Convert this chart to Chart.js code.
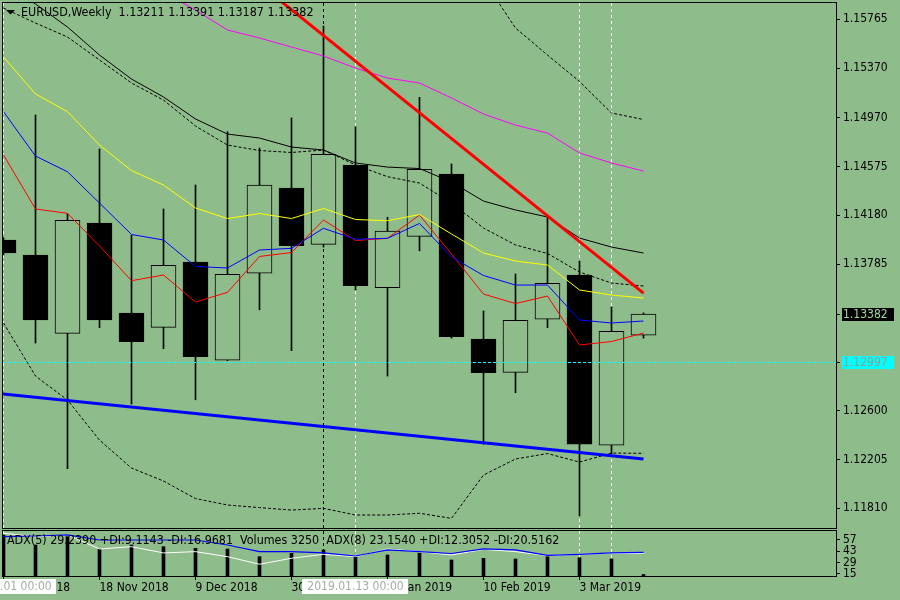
<!DOCTYPE html>
<html lang="en">
<head>
  <meta charset="UTF-8">
  <title>EURUSD Weekly</title>
  <script src="https://cdn.jsdelivr.net/npm/chart.js"></script>
  <style>
    body { margin: 0; background: #8fbc8b; width: 900px; height: 600px; overflow: hidden; position: relative; }
    canvas { position: absolute; left: 0; }
    #priceChart { top: 0; }
    #adxChart { top: 528px; }
  </style>
</head>
<body>
  <canvas id="priceChart" width="900" height="530"></canvas>
  <canvas id="adxChart" width="900" height="72"></canvas>
  <script>
    // weekly bars, index 0 = week of 28 Oct 2018
    const weeks = ['28 Oct 2018', '4 Nov 2018', '11 Nov 2018', '18 Nov 2018', '25 Nov 2018', '2 Dec 2018', '9 Dec 2018',
      '16 Dec 2018', '23 Dec 2018', '30 Dec 2018', '6 Jan 2019', '13 Jan 2019', '20 Jan 2019', '27 Jan 2019',
      '3 Feb 2019', '10 Feb 2019', '17 Feb 2019', '24 Feb 2019', '3 Mar 2019', '10 Mar 2019', '17 Mar 2019'];
    const openP  = [1.13980, 1.13859, 1.13225, 1.14118, 1.13390, 1.13274, 1.13802, 1.13009, 1.13711, 1.14401, 1.13945,
      1.14587, 1.13594, 1.14010, 1.14514, 1.13179, 1.12910, 1.13339, 1.13697, 1.12320, 1.13211];
    const highP  = [1.14000, 1.14991, 1.14190, 1.14716, 1.14018, 1.14231, 1.14425, 1.14856, 1.14724, 1.14967, 1.15711,
      1.14896, 1.14164, 1.15134, 1.14595, 1.13406, 1.13705, 1.14168, 1.13810, 1.13438, 1.13391];
    const lowP   = [1.13860, 1.13147, 1.12130, 1.13271, 1.12654, 1.13101, 1.12688, 1.13005, 1.13416, 1.13085, 1.13923,
      1.13576, 1.12880, 1.13893, 1.13187, 1.12328, 1.12745, 1.13271, 1.11748, 1.12247, 1.13187];
    const closeP = [1.13875, 1.13333, 1.14139, 1.13333, 1.13157, 1.13775, 1.13036, 1.13703, 1.14425, 1.13934, 1.14673,
      1.13610, 1.14053, 1.14552, 1.13198, 1.12907, 1.13331, 1.13630, 1.12328, 1.13242, 1.13382];

    // moving averages
    const maRed = [1.14668, 1.14231, 1.14196, 1.13932, 1.13651, 1.13697, 1.13479, 1.13557, 1.13847, 1.13879, 1.14142,
      1.13976, 1.13994, 1.14182, 1.13867, 1.13543, 1.13466, 1.13527, 1.13131, 1.13159, 1.13228];
    const maBlue = [1.15018, 1.14659, 1.14532, 1.14279, 1.14025, 1.13980, 1.13766, 1.13754, 1.13899, 1.13913, 1.14075,
      1.13986, 1.13994, 1.14114, 1.13843, 1.13693, 1.13616, 1.13616, 1.13333, 1.13309, 1.13325];
    const maYellow = [1.15460, 1.15161, 1.15018, 1.14748, 1.14542, 1.14425, 1.14239, 1.14154, 1.14194, 1.14154, 1.14235,
      1.14146, 1.14136, 1.14186, 1.14029, 1.13875, 1.13810, 1.13778, 1.13576, 1.13535, 1.13511];
    const maBlack = [1.16042, 1.15889, 1.15703, 1.15476, 1.15282, 1.15137, 1.14959, 1.14837, 1.14805, 1.14732, 1.14708,
      1.14603, 1.14570, 1.14558, 1.14449, 1.14295, 1.14223, 1.14166, 1.13996, 1.13923, 1.13875];
    const maMagenta = [null, null, null, null, null, 1.15986, 1.15840, 1.15679, 1.15614, 1.15541, 1.15468,
      1.15371, 1.15290, 1.15250, 1.15129, 1.14999, 1.14910, 1.14845, 1.14684, 1.14603, 1.14538];
    // bands (dotted)
    const bandMid = [1.15856, 1.15735, 1.15622, 1.15436, 1.15250, 1.15112, 1.14902, 1.14748, 1.14704, 1.14688, 1.14708,
      1.14587, 1.14492, 1.14441, 1.14279, 1.14077, 1.13940, 1.13871, 1.13721, 1.13632, 1.13608];
    const bandUpper = [null, null, null, null, null, null, null, null, null, null, null, null, null, null,
      1.16406, 1.16083, 1.15695, 1.15476, 1.15262, 1.15007, 1.14955];
    const bandLower = [1.13309, 1.12880, 1.12686, 1.12362, 1.12136, 1.12031, 1.11889, 1.11837, 1.11816, 1.11796, 1.11810,
      1.11756, 1.11756, 1.11770, 1.11729, 1.12079, 1.12209, 1.12253, 1.12184, 1.12257, 1.12255];

    // trend lines: [bar index, price]
    const redTrend = [[8, 1.16051], [20, 1.13551]];
    const blueTrend = [[-0.0156, 1.12734], [20, 1.12209]];
    const cyanLevel = 1.12997;
    const lastPrice = 1.13382;
    const whiteVLines = [0, 11, 18, 19];
    const blackVLines = [10];
    const vLineLabels = [[0, '2018.11.01 00:00'], [11, '2019.01.13 00:00']];

    const priceTicks = [1.15765, 1.15370, 1.14970, 1.14575, 1.14180, 1.13785, 1.12600, 1.12205, 1.11810];
    const dateTicks = [0, 3, 6, 9, 12, 15, 18];
    const adxTicks = [57, 43, 29, 15];

    // lower window
    const volumes = [90000, 68200, 86500, 59400, 68200, 64500, 60900, 59400, 42500, 49900, 57200,
      42500, 46200, 49900, 35200, 38900, 37400, 42500, 40300, 37400, 3250];
    const adxWhite = [65.3, 61.1, 63.2, 45.9, 48.7, 41.0, 42.6, 36.4, 27.0, 34.4, 39.3,
      36.4, 45.9, 42.6, 38.5, 45.5, 42.6, 37.6, 39.3, 40.5, 40.5];
    const adxBlue = [61.1, 61.9, 63.2, 57.0, 57.0, 57.0, 57.0, 50.8, 42.6, 42.6, 41.0,
      37.2, 44.7, 42.6, 40.3, 45.9, 44.7, 37.9, 39.3, 41.0, 41.8];

    const BG = '#8fbc8b';
    const FAMILY = '"DejaVu Sans Condensed", "DejaVu Sans", sans-serif';
    const FONT = '12.4px ' + FAMILY;
    const X_MIN = -0.015625, X_MAX = 26.015625;

    const pts = arr => arr.map((v, i) => ({ x: i, y: v })).filter(p => p.y !== null);
    const line = (data, color, extra) => Object.assign({
      type: 'line', data: data, borderColor: color, borderWidth: 1, pointRadius: 0, order: 5
    }, extra || {});

    function dashLine(ctx, x1, y1, x2, y2, color, dash) {
      ctx.save();
      ctx.strokeStyle = color;
      ctx.lineWidth = 1;
      ctx.setLineDash(dash);
      ctx.beginPath();
      ctx.moveTo(x1, y1);
      ctx.lineTo(x2, y2);
      ctx.stroke();
      ctx.restore();
    }

    function drawVLines(chart) {
      const { ctx, chartArea: a, scales: { x } } = chart;
      whiteVLines.forEach(i => { const px = x.getPixelForValue(i); dashLine(ctx, px, a.top, px, a.bottom, '#ffffff', [3, 3]); });
      blackVLines.forEach(i => { const px = x.getPixelForValue(i); dashLine(ctx, px, a.top, px, a.bottom, '#000000', [3, 3]); });
    }

    function drawFrame(chart) {
      const { ctx, chartArea: a } = chart;
      ctx.save();
      ctx.strokeStyle = '#000';
      ctx.lineWidth = 1;
      ctx.strokeRect(a.left - 0.5, a.top - 0.5, a.right - a.left + 1, a.bottom - a.top + 1);
      ctx.restore();
    }

    const priceDecor = {
      id: 'priceDecor',
      beforeDatasetsDraw(chart) { drawVLines(chart); },
      afterDatasetsDraw(chart) {
        const { ctx, chartArea: a, scales: { y } } = chart;
        const py = Math.round(y.getPixelForValue(cyanLevel)) + 0.5;
        dashLine(ctx, a.left, py, a.right, py, '#00ffff', [3, 2]);
      },
      afterDraw(chart) {
        const { ctx, chartArea: a, scales: { y } } = chart;
        drawFrame(chart);
        ctx.save();
        // header
        ctx.fillStyle = '#000';
        ctx.beginPath();
        ctx.moveTo(6, 10); ctx.lineTo(15, 10); ctx.lineTo(10.5, 14.5); ctx.closePath();
        ctx.fill();
        ctx.font = FONT;
        ctx.textBaseline = 'middle';
        ctx.textAlign = 'left';
        ctx.fillText('EURUSD,Weekly  ' + [openP[20], highP[20], lowP[20], closeP[20]].map(v => v.toFixed(5)).join(' '), 21, 13);
        // price labels on the axis
        ctx.font = '12px ' + FAMILY;
        const boxes = [[lastPrice, '#000000', '#a6d4a2'], [cyanLevel, '#00ffff', '#8f9f8f']];
        boxes.forEach(([v, fill, txt]) => {
          const py = Math.round(y.getPixelForValue(v));
          ctx.fillStyle = fill;
          ctx.fillRect(a.right + 6, py - 6, 52, 13);
          ctx.fillStyle = '#000';
          ctx.fillRect(a.right, py, 4, 1);
          ctx.fillStyle = txt;
          ctx.fillText(v.toFixed(5), a.right + 7, py + 1);
        });
        ctx.restore();
      }
    };

    const adxDecor = {
      id: 'adxDecor',
      beforeDatasetsDraw(chart) { drawVLines(chart); },
      afterDraw(chart) {
        const { ctx, chartArea: a, scales: { x } } = chart;
        ctx.save();
        // the window clips its scale labels at the bottom edge
        ctx.fillStyle = BG;
        ctx.fillRect(a.right + 6, a.bottom + 1, 60, 24);
        drawFrame(chart);
        ctx.font = FONT;
        ctx.textBaseline = 'middle';
        ctx.textAlign = 'left';
        ctx.fillStyle = '#000';
        ctx.fillText('ADX(5) 29.2390 +DI:9.1143 -DI:16.9681  Volumes 3250  ADX(8) 23.1540 +DI:12.3052 -DI:20.5162', 7, 13);
        ctx.font = '12px ' + FAMILY;
        vLineLabels.forEach(([i, text]) => {
          const px = x.getPixelForValue(i);
          const w = ctx.measureText(text).width + 10;
          ctx.fillStyle = '#ffffff';
          ctx.fillRect(Math.round(px - w / 2), a.bottom + 3, Math.round(w), 15);
          ctx.fillStyle = '#a3ada3';
          ctx.textAlign = 'center';
          ctx.fillText(text, px, a.bottom + 11);
        });
        ctx.restore();
      }
    };

    const fixWidth = w => function (scale) { scale.width = w; scale.paddingTop = 0; scale.paddingBottom = 0; };

    new Chart(document.getElementById('priceChart'), {
      type: 'bar',
      data: {
        datasets: [
          { label: 'wick', data: weeks.map((w, i) => ({ x: i, y: [lowP[i], highP[i]] })),
            backgroundColor: '#000', barThickness: 1, grouped: false, order: 10 },
          { label: 'body', data: weeks.map((w, i) => ({ x: i, y: [openP[i], closeP[i]] })),
            backgroundColor: weeks.map((w, i) => closeP[i] >= openP[i] ? BG : '#000'),
            borderColor: '#000', borderWidth: 1, borderSkipped: false, barThickness: 25, grouped: false, order: 9 },
          line(pts(bandLower), '#000', { borderDash: [3, 2] }),
          line(pts(bandUpper), '#000', { borderDash: [3, 2] }),
          line(pts(bandMid), '#000', { borderDash: [3, 2] }),
          line(pts(maBlack), '#000'),
          line(pts(maMagenta), '#ff00ff'),
          line(pts(maYellow), '#ffff00'),
          line(pts(maBlue), '#0000ff'),
          line(pts(maRed), '#ff0000'),
          line(blueTrend.map(([x, y]) => ({ x, y })), '#0000ff', { borderWidth: 3, order: 1 }),
          line(redTrend.map(([x, y]) => ({ x, y })), '#ff0000', { borderWidth: 3, order: 1 })
        ]
      },
      options: {
        responsive: false,
        animation: false,
        devicePixelRatio: 1,
        layout: { padding: { left: 3, top: 3, right: 0, bottom: 2 } },
        plugins: { legend: { display: false }, tooltip: { enabled: false } },
        scales: {
          x: { type: 'linear', min: X_MIN, max: X_MAX, offset: false, display: false, grid: { offset: false } },
          y: {
            position: 'right', min: 1.11651, max: 1.15897,
            afterFit: fixWidth(64),
            afterBuildTicks: s => { s.ticks = priceTicks.map(v => ({ value: v })); },
            border: { display: false },
            grid: { drawOnChartArea: false, drawTicks: true, tickLength: 4, color: '#000' },
            ticks: { color: '#000', padding: 3, autoSkip: false, font: { family: FAMILY, size: 12 },
              callback: v => v.toFixed(5) }
          }
        }
      },
      plugins: [priceDecor]
    });

    new Chart(document.getElementById('adxChart'), {
      type: 'bar',
      data: {
        datasets: [
          { label: 'Volumes', data: pts(volumes), yAxisID: 'yv', backgroundColor: '#000',
            barThickness: 3, grouped: false, order: 3 },
          { type: 'line', label: 'ADX(5)', data: pts(adxWhite), borderColor: '#ffffff', borderWidth: 1, pointRadius: 0, order: 2 },
          { type: 'line', label: 'ADX(8)', data: pts(adxBlue), borderColor: '#0000ff', borderWidth: 1.2, pointRadius: 0, order: 1 }
        ]
      },
      options: {
        responsive: false,
        animation: false,
        devicePixelRatio: 1,
        layout: { padding: { left: 3, top: 3, right: 0, bottom: 0 } },
        plugins: { legend: { display: false }, tooltip: { enabled: false } },
        scales: {
          x: {
            type: 'linear', min: X_MIN, max: X_MAX, offset: false,
            afterFit: s => { s.height = 24; s.paddingLeft = 0; s.paddingRight = 0; },
            afterBuildTicks: s => { s.ticks = dateTicks.map(v => ({ value: v })); },
            border: { display: false },
            grid: { offset: false, drawOnChartArea: false, drawTicks: true, tickLength: 4, color: '#000' },
            ticks: { color: '#000', align: 'start', padding: 1, maxRotation: 0, autoSkip: false,
              font: { family: FAMILY, size: 12 },
              callback: v => weeks[v] }
          },
          y: {
            position: 'right', min: 12.5, max: 68.1,
            afterFit: fixWidth(64),
            afterBuildTicks: s => { s.ticks = adxTicks.map(v => ({ value: v })); },
            border: { display: false },
            grid: { drawOnChartArea: false, drawTicks: true, tickLength: 4, color: '#000' },
            ticks: { color: '#000', padding: 3, autoSkip: false, font: { family: FAMILY, size: 12 } }
          },
          yv: { display: false, min: 0, max: 99000 }
        }
      },
      plugins: [adxDecor]
    });
  </script>
</body>
</html>
